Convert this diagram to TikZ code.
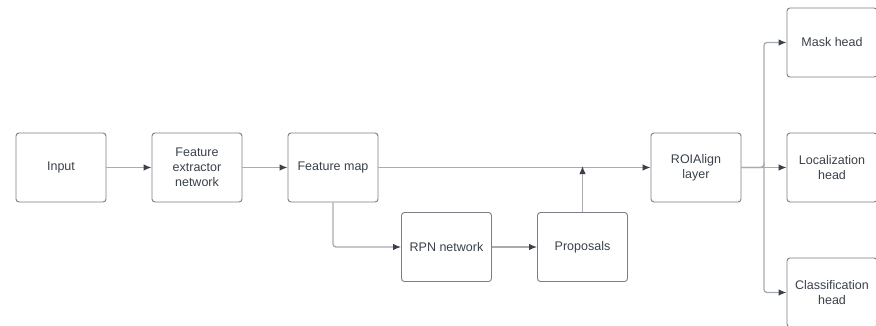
\documentclass[tikz,border=0pt]{standalone}
\usepackage{fontspec}
\setmainfont{Liberation Sans}
\usetikzlibrary{arrows.meta}
\definecolor{txt}{HTML}{3A414A}
\definecolor{edge}{HTML}{7A7E85}
\definecolor{wire}{HTML}{A8ABB0}
\definecolor{tip}{HTML}{3A414A}
\tikzset{
  box/.style={draw=edge, line width=0.9pt, rounded corners=3pt, minimum width=90pt, minimum height=69pt,
    inner sep=0pt, align=center, text=txt, font=\fontsize{12.5}{15}\selectfont, fill=white},
  conn/.style={draw=wire, line width=1.3pt, rounded corners=3pt,
    -{Latex[length=8pt,width=6.5pt,fill=tip,color=tip]}},
}
\begin{document}
\begin{tikzpicture}[x=1pt,y=-1pt]
\path[use as bounding box] (0,0) rectangle (876,325);
\clip (0,0) rectangle (876,325);
\node[box] (in) at (61,167.5) {Input};
\node[box] (fe) at (197,167.5) {Feature\\extractor\\network};
\node[box] (fm) at (333,167.5) {Feature map};
\node[box] (rpn) at (446.5,247) {RPN network};
\node[box] (pr) at (582.5,247) {Proposals};
\node[box] (roi) at (696,167.5) {ROIAlign\\layer};
\node[box] (mask) at (832,42.5) {Mask head};
\node[box] (loc) at (832,167.5) {Localization\\head};
\node[box] (cls) at (832,292.5) {Classification\\head};
\coordinate (br) at (764,167.5);
\coordinate (j) at (582.5,167.5);
\draw[conn] (in) -- (fe);
\draw[conn] (fe) -- (fm);
\draw[conn] (fm) -- (roi);
\draw[conn] (fm.south) |- (rpn.west);
\draw[conn] (rpn) -- (pr);
\draw[conn] (pr.north) -- ([yshift=1.5pt]j);
\draw[conn] (roi) -- (loc);
\draw[conn] (roi.east) -| (br) |- (mask.west);
\draw[conn] (roi.east) -| (br) |- (cls.west);
\end{tikzpicture}
\end{document}
